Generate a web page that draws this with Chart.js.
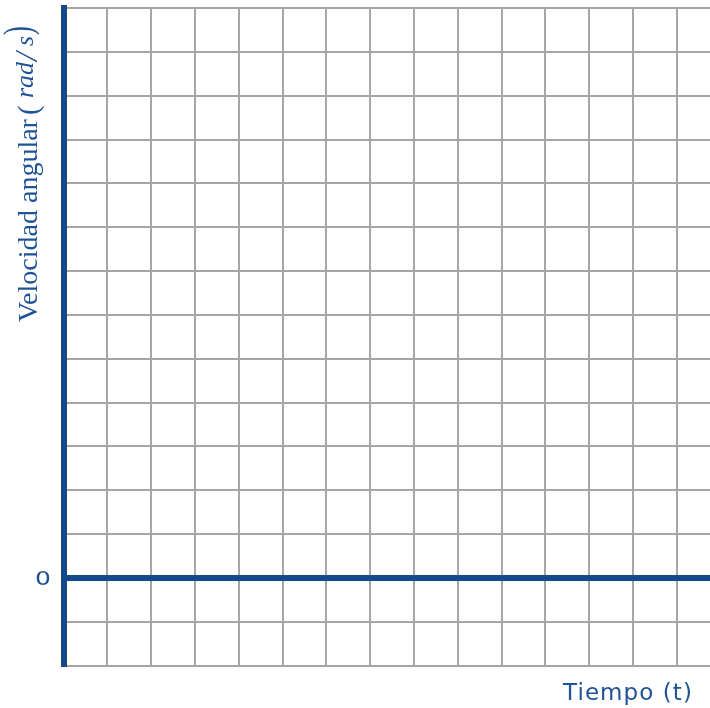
<!DOCTYPE html>
<html>
<head>
<meta charset="utf-8">
<script src="https://cdn.jsdelivr.net/npm/chart.js@4"></script>
<style>
  body { margin: 0; background: #fff; }
  canvas { display: block; }
</style>
</head>
<body>
<canvas id="velChart" width="710" height="708"></canvas>
<script>
// Empty grid for angular velocity vs time

// tick values
const timeTicks = [0, 1, 2, 3, 4, 5, 6, 7, 8, 9, 10, 11, 12, 13, 14];
const timeRange = [0, 14.76];
const velocityTicks = [-2, -1, 0, 1, 2, 3, 4, 5, 6, 7, 8, 9, 10, 11, 12, 13];
const velocityRange = [-2, 13];
const velocityLabels = [{ value: 0, text: '0' }];
const xTitle = 'Tiempo (t)';

const blue = '#144a8b';
const textBlue = '#1f5396';
const gray = '#a6a6a6';

// axis titles and the single tick label drawn by hand
const titlePlugin = {
    id: 'titles',
    afterDraw(chart) {
        const ctx = chart.ctx;
        const yScale = chart.scales.y;

        // the "0" label next to the zero line (round geometric zero)
        velocityLabels.forEach(l => {
            ctx.save();
            ctx.fillStyle = textBlue;
            ctx.font = '20px "DejaVu Sans"';
            ctx.textAlign = 'center';
            ctx.textBaseline = 'middle';
            ctx.translate(43, yScale.getPixelForValue(l.value) + 2);
            ctx.scale(1.25, 0.95);
            ctx.fillText(l.text, 0, 0);
            ctx.restore();
        });

        // y title, read bottom to top
        ctx.save();
        ctx.fillStyle = textBlue;
        ctx.textBaseline = 'alphabetic';
        ctx.textAlign = 'left';
        ctx.translate(37, 322);
        ctx.rotate(-Math.PI / 2);
        const parts = [
            { t: 'Velocidad angular', f: '28px "Liberation Serif"', u: 0, r: 0, s: 1 },
            { t: '(', f: '29px "Liberation Serif"', u: 207, r: -1, s: 1 },
            { t: 'rad', f: 'italic 26px "Liberation Serif"', u: 224, r: 4, s: 1 },
            { t: '/', f: 'italic 32px "Liberation Serif"', u: 261, r: 0, s: 1 },
            { t: 's', f: 'italic 26px "Liberation Serif"', u: 276, r: 4, s: 1 },
            { t: ')', f: '27px "Liberation Serif"', u: 287, r: 6, s: 1.5 },
        ];
        parts.forEach(p => {
            ctx.save();
            ctx.font = p.f;
            ctx.translate(p.u, -p.r);
            ctx.scale(1, p.s);
            ctx.fillText(p.t, 0, 0);
            ctx.restore();
        });
        ctx.restore();

        // x title, bottom right
        ctx.save();
        ctx.fillStyle = textBlue;
        ctx.font = '23px "DejaVu Sans"';
        const w = ctx.measureText(xTitle).width;
        ctx.letterSpacing = ((130 - w) / xTitle.length) + 'px';
        ctx.textAlign = 'left';
        ctx.textBaseline = 'alphabetic';
        ctx.fillText(xTitle, 563, 700);
        ctx.restore();
    }
};

const ctx = document.getElementById('velChart').getContext('2d');

new Chart(ctx, {
    type: 'scatter',
    data: {
        datasets: [{ data: [] }]
    },
    options: {
        responsive: false,
        animation: false,
        layout: { padding: { top: 8, left: 0, right: 0, bottom: 0 } },
        plugins: {
            legend: { display: false },
            tooltip: { enabled: false }
        },
        scales: {
            x: {
                type: 'linear',
                min: timeRange[0],
                max: timeRange[1],
                afterBuildTicks: scale => {
                    scale.ticks = timeTicks.map(v => ({ value: v }));
                },
                afterFit: scale => { scale.height = 42.3; },
                ticks: { display: false },
                grid: { color: gray, lineWidth: 2, drawTicks: false },
                border: { color: gray, width: 2 }
            },
            y: {
                type: 'linear',
                z: 1,
                min: velocityRange[0],
                max: velocityRange[1],
                afterBuildTicks: scale => {
                    scale.ticks = velocityTicks.map(v => ({ value: v }));
                },
                afterFit: scale => { scale.width = 63.5; },
                ticks: { display: false },
                grid: {
                    drawTicks: false,
                    color: c => (c.tick && c.tick.value === 0 ? blue : gray),
                    lineWidth: c => (c.tick && c.tick.value === 0 ? 6 : 2)
                },
                border: { color: blue, width: 6 }
            }
        }
    },
    plugins: [titlePlugin]
});
</script>
</body>
</html>
